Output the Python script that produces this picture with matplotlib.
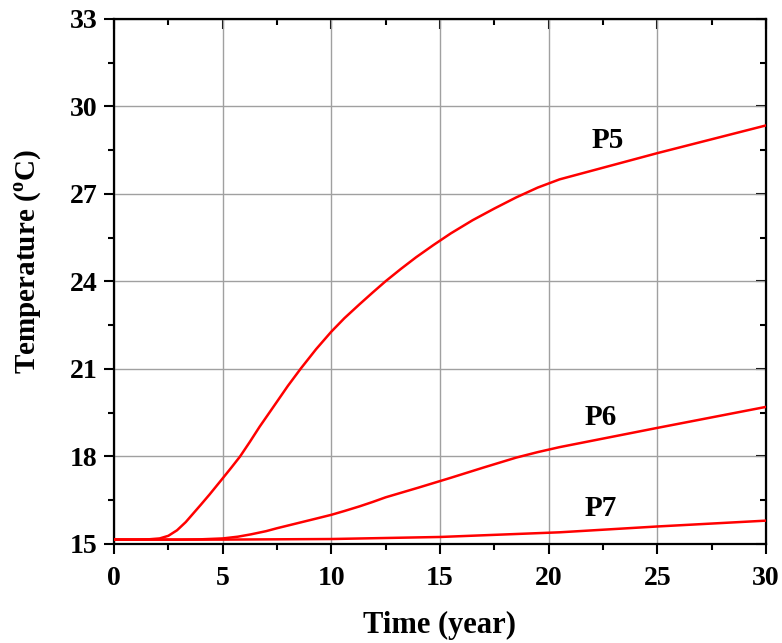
import numpy as np
import matplotlib
matplotlib.use("Agg")
import matplotlib.pyplot as plt
from matplotlib.ticker import MultipleLocator

plt.rcParams['font.family'] = 'Liberation Serif'
plt.rcParams['font.weight'] = 'bold'
plt.rcParams['mathtext.fontset'] = 'custom'
plt.rcParams['mathtext.rm'] = 'Liberation Serif:bold'
plt.rcParams['mathtext.bf'] = 'Liberation Serif:bold'

# dados
t_p5 = [0, 1, 1.6, 2.1, 2.5, 2.9, 3.3, 3.65, 4.0, 4.4, 5.0, 5.4, 5.8, 6.25, 6.7,
        7.1, 7.5, 8.0, 8.6, 9.3, 10.0, 10.6, 11.3, 11.9, 12.5, 13.2, 13.9, 14.7,
        15.5, 16.5, 17.5, 18.5, 19.5, 20.5, 25, 30]
temp_p5 = [15.15, 15.15, 15.16, 15.19, 15.28, 15.47, 15.75, 16.05, 16.35, 16.7,
           17.25, 17.62, 18.0, 18.5, 19.02, 19.45, 19.88, 20.42, 21.02, 21.68,
           22.28, 22.74, 23.22, 23.62, 24.01, 24.43, 24.83, 25.25, 25.65, 26.1,
           26.5, 26.88, 27.22, 27.5, 28.4, 29.35]

t_p6 = [0, 2, 3, 4, 5, 5.7, 6.3, 7.0, 7.5, 8.1, 8.7, 9.3, 10, 10.6, 11.3, 11.9,
        12.5, 14, 15.5, 17, 18.5, 19.5, 20.5, 25, 30]
temp_p6 = [15.15, 15.15, 15.15, 15.16, 15.19, 15.25, 15.33, 15.44, 15.54, 15.65,
           15.76, 15.87, 16.0, 16.13, 16.29, 16.44, 16.6, 16.93, 17.27, 17.62,
           17.96, 18.15, 18.32, 18.98, 19.7]

t_p7 = [0, 5, 10, 15, 20.5, 25, 30]
temp_p7 = [15.15, 15.15, 15.17, 15.24, 15.4, 15.6, 15.8]

rotulos = ['P5', 'P6', 'P7']
pos_rotulos = [(22.7, 28.85), (22.4, 19.35), (22.4, 16.2)]

fig = plt.figure(figsize=(7.82, 6.43), dpi=100)
ax = fig.add_axes([0.1458, 0.154, 0.8337, 0.8165])

for t, temp in [(t_p5, temp_p5), (t_p6, temp_p6), (t_p7, temp_p7)]:
    ax.plot(t, temp, color='red', linewidth=1.8, zorder=3)

for nome, (x, y) in zip(rotulos, pos_rotulos):
    ax.text(x, y, nome, fontsize=21, fontweight='bold', ha='center', va='center')

ax.set_xlim(0, 30)
ax.set_ylim(15, 33)
ax.xaxis.set_major_locator(MultipleLocator(5))
ax.xaxis.set_minor_locator(MultipleLocator(2.5))
ax.yaxis.set_major_locator(MultipleLocator(3))
ax.yaxis.set_minor_locator(MultipleLocator(1.5))
ax.grid(True, which='major', color='#a0a0a0', linewidth=1.0)

ax.tick_params(which='both', direction='out', width=1.5, labelsize=20, pad=5)
ax.tick_params(axis='x', which='major', pad=9)
ax.tick_params(which='major', length=7)
ax.tick_params(which='minor', length=4)
for lab in ax.get_xticklabels() + ax.get_yticklabels():
    lab.set_fontweight('bold')

# marcas espelhadas no topo e à direita
for s in ax.spines.values():
    s.set_linewidth(1.6)
ax_top = ax.secondary_xaxis('top')
ax_top.xaxis.set_major_locator(MultipleLocator(5))
ax_top.xaxis.set_minor_locator(MultipleLocator(2.5))
ax_top.tick_params(which='both', direction='in', width=1.5, labeltop=False)
ax_top.tick_params(which='major', length=7)
ax_top.tick_params(which='minor', length=4)
ax_dir = ax.secondary_yaxis('right')
ax_dir.yaxis.set_major_locator(MultipleLocator(3))
ax_dir.yaxis.set_minor_locator(MultipleLocator(1.5))
ax_dir.tick_params(which='both', direction='in', width=1.5, labelright=False)
ax_dir.tick_params(which='major', length=7)
ax_dir.tick_params(which='minor', length=4)

ax.set_xlabel('Time (year)', fontsize=22, fontweight='bold', labelpad=14)
ax.set_ylabel(r'Temperature ($^{\mathbf{o}}$C)', fontsize=21, fontweight='bold')
ax.yaxis.set_label_coords(-0.107, 0.537)

fig.savefig('out.png', dpi=100)
